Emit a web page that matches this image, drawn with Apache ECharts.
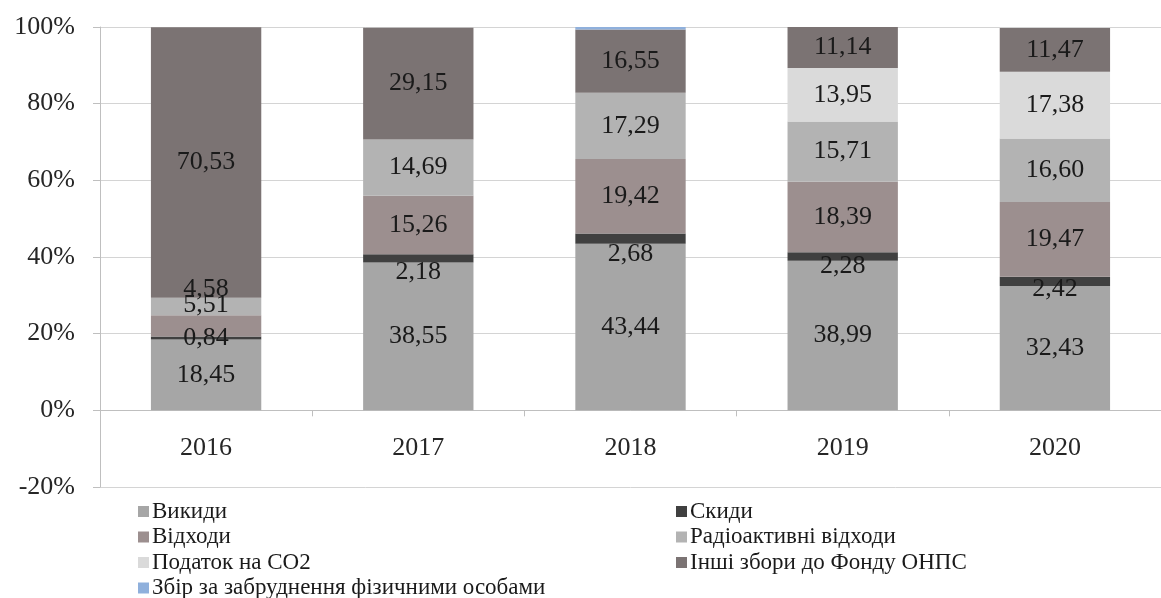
<!DOCTYPE html>
<html>
<head>
<meta charset="utf-8">
<script src="https://cdn.jsdelivr.net/npm/echarts@6/dist/echarts.min.js"></script>
<style>
html,body{margin:0;padding:0;background:#fff;}
#chart{width:1161px;height:598px;}
</style>
</head>
<body>
<div id="chart"></div>
<script>
// Data
const years = ['2016', '2017', '2018', '2019', '2020'];
const seriesNames = ['Викиди', 'Скиди', 'Відходи', 'Радіоактивні відходи', 'Податок на СО2', 'Інші збори до Фонду ОНПС', 'Збір за забруднення фізичними особами'];
const vykydy = [18.45, 38.55, 43.44, 38.99, 32.43];
const skydy = [0.84, 2.18, 2.68, 2.28, 2.42];
const vidkhody = [5.51, 15.26, 19.42, 18.39, 19.47];
const radio = [4.58, 14.69, 17.29, 15.71, 16.60];
const co2 = [0, 0, 0, 13.95, 17.38];
const inshi = [70.53, 29.15, 16.55, 11.14, 11.47];
const zbir = [0, 0, 0.6, 0, 0];
const yTicks = [-20, 0, 20, 40, 60, 80, 100];

const values = [vykydy, skydy, vidkhody, radio, co2, inshi, zbir];
const colors = ['#a6a6a6', '#404040', '#9c8f8f', '#b3b3b3', '#dadada', '#7b7373', '#8fb0dc'];
const FONT = '"Liberation Serif", "DejaVu Serif", serif';

// label offsets for crowded segments (style, not data)
const labelOffsets = {
  1: [[0, 0], [0, 14], [0, 15], [0, 10], [0, 8]],
  2: [[0, -21], null, null, null, null],
  3: [[0, -17], null, null, null, null]
};

function fmt(v) { return v.toFixed(2).replace('.', ','); }

const series = seriesNames.map((name, si) => ({
  name: name,
  type: 'bar',
  stack: 'total',
  barWidth: '52%',
  itemStyle: { color: colors[si] },
  label: {
    show: si !== 6,
    position: 'inside',
    fontFamily: FONT,
    fontSize: 26,
    color: '#1a1a1a',
    formatter: p => (p.value ? fmt(p.value) : '')
  },
  data: values[si].map((v, i) => {
    const off = labelOffsets[si] && labelOffsets[si][i];
    return off ? { value: v, label: { offset: off } } : v;
  })
}));

const legendText = { fontFamily: FONT, fontSize: 23, lineHeight: 23, color: '#1a1a1a', padding: [0, 0, 0, -2] };

const chart = echarts.init(document.getElementById('chart'));
chart.setOption({
  animation: false,
  backgroundColor: '#fff',
  grid: { left: 100, right: -11, top: 27, bottom: 111, containLabel: false },
  xAxis: {
    type: 'category',
    data: years,
    axisLine: { show: true, onZero: true, lineStyle: { color: '#bfbfbf', width: 1 } },
    axisTick: { show: true, length: 6, lineStyle: { color: '#bfbfbf' } },
    axisLabel: { fontFamily: FONT, fontSize: 26, color: '#262626', margin: -52 },
    splitLine: { show: false }
  },
  yAxis: {
    type: 'value',
    min: yTicks[0],
    max: yTicks[yTicks.length - 1],
    interval: 20,
    axisLine: { show: true, lineStyle: { color: '#bfbfbf' } },
    axisTick: { show: true, length: 7, lineStyle: { color: '#bfbfbf' } },
    axisLabel: { fontFamily: FONT, fontSize: 26, color: '#262626', margin: 25, formatter: v => v + '%' },
    splitLine: { show: true, lineStyle: { color: '#d4d4d4', width: 1 } }
  },
  legend: [
    {
      data: [seriesNames[0], seriesNames[2], seriesNames[4], seriesNames[6]],
      orient: 'vertical',
      left: 133, top: 495, height: 103,
      itemWidth: 11, itemHeight: 11, itemGap: 2.5,
      icon: 'rect',
      textStyle: legendText,
      selectedMode: false
    },
    {
      data: [seriesNames[1], seriesNames[3], seriesNames[5]],
      orient: 'vertical',
      left: 671, top: 495, height: 103,
      itemWidth: 11, itemHeight: 11, itemGap: 2.5,
      icon: 'rect',
      textStyle: legendText,
      selectedMode: false
    }
  ],
  series: series
});
</script>
</body>
</html>
